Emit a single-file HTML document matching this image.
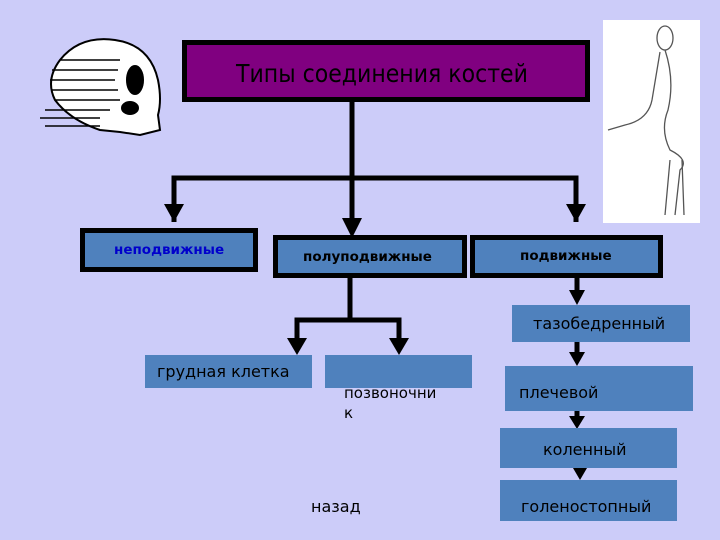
<!DOCTYPE html>
<html><head><meta charset="utf-8"><style>
body{margin:0;width:720px;height:540px;background:#ccccf9;position:relative;overflow:hidden;font-family:"DejaVu Sans","Liberation Sans",sans-serif}
.b{position:absolute;background:#4f81bd;box-sizing:border-box}
.k{border:5px solid #000}
.t{position:absolute;white-space:nowrap}
</style></head><body>
<svg width="720" height="540" style="position:absolute;left:0;top:0">
<g fill="#fff" stroke="#000" stroke-width="2">
<path d="M60 60 Q80 35 115 40 Q150 45 158 80 Q162 100 158 115 L160 130 L140 135 L120 132 L100 130 Q70 120 55 100 Q45 80 60 60Z"/>
<ellipse cx="135" cy="80" rx="8" ry="14" fill="#000"/>
<ellipse cx="130" cy="108" rx="8" ry="6" fill="#000"/>
</g>
<g stroke="#000" stroke-width="1.5">
<line x1="60" y1="60" x2="120" y2="60"/><line x1="52" y1="70" x2="118" y2="70"/><line x1="50" y1="80" x2="115" y2="80"/><line x1="52" y1="90" x2="118" y2="90"/><line x1="55" y1="100" x2="120" y2="100"/><line x1="45" y1="110" x2="110" y2="110"/><line x1="40" y1="118" x2="100" y2="118"/><line x1="45" y1="126" x2="100" y2="126"/>
</g>
<rect x="603" y="20" width="97" height="203" fill="#fff"/>
<g fill="none" stroke="#555" stroke-width="1.3">
<ellipse cx="665" cy="38" rx="8" ry="12"/>
<path d="M665 50 Q675 80 668 110 Q660 130 670 150 Q690 160 680 170 L675 215"/>
<path d="M660 52 L652 100 Q648 120 625 125 L608 130"/>
<path d="M670 160 L665 215 M682 160 L684 215"/>
</g>
<g stroke="#000" stroke-width="5" fill="none">
<line x1="352" y1="102" x2="352" y2="218"/>
<polyline points="174,222 174,178 576,178 576,222"/>
<line x1="350" y1="278" x2="350" y2="320"/>
<polyline points="297,340 297,320 399,320 399,340"/>
<line x1="577" y1="278" x2="577" y2="292"/>
<line x1="577" y1="342" x2="577" y2="354"/>
<line x1="577" y1="411" x2="577" y2="418"/>
<line x1="580" y1="468" x2="580" y2="472"/>
</g>
<g fill="#000">
<polygon points="164,204 184,204 174,222"/>
<polygon points="566,204 586,204 576,222"/>
<polygon points="342,218 362,218 352,238"/>
<polygon points="287,338 307,338 297,355"/>
<polygon points="389,338 409,338 399,355"/>
<polygon points="569,290 585,290 577,305"/>
<polygon points="569,352 585,352 577,366"/>
<polygon points="569,416 585,416 577,429"/>
<polygon points="573,468 587,468 580,480"/>
</g>
</svg>
<div class="b k" style="left:182px;top:40px;width:408px;height:62px;background:#800080"></div>
<div class="t" style="left:236px;top:59px;font-size:24.5px;color:#000;font-family:'DejaVu Sans Condensed','DejaVu Sans',sans-serif">Типы соединения костей</div>
<div class="b k" style="left:80px;top:228px;width:178px;height:44px"></div>
<div class="t" style="left:114px;top:242px;font-size:13.5px;font-weight:bold;color:#0000cc">неподвижные</div>
<div class="b k" style="left:273px;top:235px;width:194px;height:43px"></div>
<div class="t" style="left:303px;top:249px;font-size:13.5px;font-weight:bold">полуподвижные</div>
<div class="b k" style="left:470px;top:235px;width:193px;height:43px"></div>
<div class="t" style="left:520px;top:248px;font-size:13.5px;font-weight:bold">подвижные</div>
<div class="b" style="left:145px;top:355px;width:167px;height:33px"></div>
<div class="t" style="left:157px;top:362px;font-size:16px">грудная клетка</div>
<div class="b" style="left:325px;top:355px;width:147px;height:33px"></div>
<div class="t" style="left:344px;top:383px;font-size:15px;line-height:20px">позвоночни<br>к</div>
<div class="b" style="left:512px;top:305px;width:178px;height:37px"></div>
<div class="t" style="left:533px;top:314px;font-size:16px">тазобедренный</div>
<div class="b" style="left:505px;top:366px;width:188px;height:45px"></div>
<div class="t" style="left:519px;top:383px;font-size:16px">плечевой</div>
<div class="b" style="left:500px;top:428px;width:177px;height:40px"></div>
<div class="t" style="left:543px;top:440px;font-size:16px">коленный</div>
<div class="b" style="left:500px;top:480px;width:177px;height:41px"></div>
<div class="t" style="left:521px;top:497px;font-size:16px">голеностопный</div>
<div class="t" style="left:311px;top:497px;font-size:16px">назад</div>
</body></html>
